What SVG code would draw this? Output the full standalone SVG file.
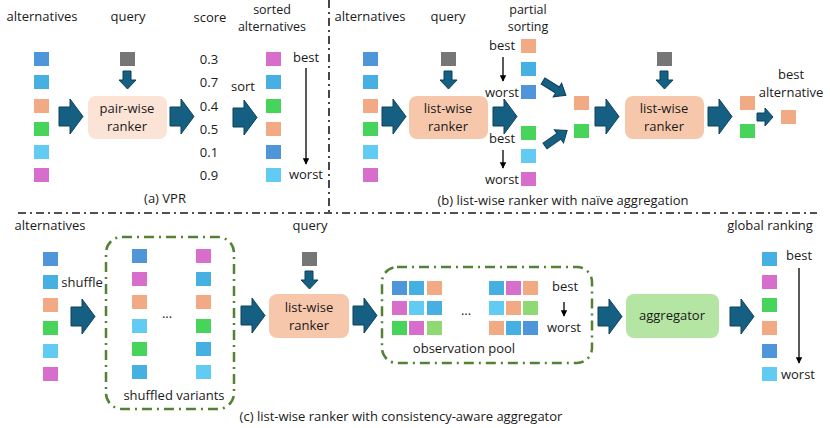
<svg xmlns="http://www.w3.org/2000/svg" xmlns:xlink="http://www.w3.org/1999/xlink" width="830" height="428" viewBox="0 0 830 428">
<style>
text{font-family:"Open Sans","Liberation Sans",sans-serif;font-size:13px;fill:#1a1a1a;text-anchor:middle}
.t2{font-size:12.5px}
.b{fill:#4e95d9}.lb{fill:#45b0e1}.o{fill:#f2aa84}.g{fill:#47d45a}.c{fill:#61cbf3}.m{fill:#d86ecc}.lg{fill:#8ed973}.gr{fill:#767676}
.sep{fill:none;stroke:#1a1a1a;stroke-width:1.6;stroke-dasharray:8 4 2 4}
.pool{fill:none;stroke:#548235;stroke-width:2.5;stroke-dasharray:10 5 2 5}
.ln{stroke:#000;stroke-width:1.3;marker-end:url(#ah)}
.arr{fill:#156082;stroke:#0e4159;stroke-width:1}
</style>
<defs>
<marker id="ah" viewBox="0 0 10 10" refX="9" refY="5" markerWidth="5" markerHeight="5" orient="auto" markerUnits="strokeWidth"><path d="M0,0 L10,5 L0,10 z" fill="#000"/></marker>
<path id="ra" class="arr" d="M0,8 H11 V0 L24,17.5 L11,35 V27 H0 Z"/>
<path id="da" class="arr" d="M4,0 H12 V9 H17 L8.5,18 L0,9 H4 Z"/>
<path id="sa" class="arr" d="M0,5 H8 V0 L16,9 L8,18 V13 H0 Z"/>
<path id="ga" class="arr" d="M0,-3.5 H17 V-8 L27,0 L17,8 V3.5 H0 Z"/>
<rect id="sq" width="15" height="14"/>
</defs>

<g id="separators">
<path class="sep" d="M329,0 V212"/>
<path class="sep" d="M18,213 H817"/>
</g>

<g id="connectors">
<use href="#ra" x="59" y="99"/>
<use href="#ra" x="170" y="99"/>
<use href="#ra" x="233" y="100"/>
<use href="#da" x="119" y="71"/>
<line class="ln" x1="306" y1="68" x2="306" y2="164"/>
<use href="#ra" x="382" y="99"/>
<use href="#da" x="440" y="71"/>
<use href="#ra" x="493" y="99"/>
<line class="ln" x1="503" y1="57" x2="503" y2="81"/>
<line class="ln" x1="503" y1="150" x2="503" y2="168"/>
<use href="#ga" transform="translate(543,81) rotate(32)"/>
<use href="#ga" transform="translate(545,146) rotate(-35)"/>
<use href="#ra" x="595" y="99"/>
<use href="#da" x="656" y="71"/>
<use href="#ra" x="708" y="99"/>
<use href="#sa" x="757" y="108"/>
<use href="#ra" x="71" y="299"/>
<use href="#ra" x="241" y="298"/>
<use href="#da" x="301" y="271"/>
<use href="#ra" x="353" y="298"/>
<line class="ln" x1="564" y1="302" x2="564" y2="316"/>
<use href="#ra" x="598" y="299"/>
<use href="#ra" x="730" y="299"/>
<line class="ln" x1="799" y1="268" x2="799" y2="363"/>
</g>

<g id="panel-a">
<text x="42" y="21">alternatives</text>
<text x="128" y="21">query</text>
<text x="210" y="22">score</text>
<text class="t2" x="272" y="14">sorted</text>
<text class="t2" x="272" y="31">alternatives</text>
<use href="#sq" class="b" x="34" y="52"/>
<use href="#sq" class="lb" x="34" y="75"/>
<use href="#sq" class="o" x="34" y="99"/>
<use href="#sq" class="g" x="34" y="122"/>
<use href="#sq" class="c" x="34" y="145"/>
<use href="#sq" class="m" x="34" y="168"/>
<use href="#sq" class="gr" x="120" y="52"/>
<g id="pairwise-ranker"><rect x="88" y="96" width="79" height="43" rx="8" fill="#fbe3d6"/>
<text x="127" y="113">pair-wise</text><text x="127" y="131">ranker</text></g>
<text x="209" y="64">0.3</text>
<text x="209" y="87">0.7</text>
<text x="209" y="111">0.4</text>
<text x="209" y="134">0.5</text>
<text x="209" y="157">0.1</text>
<text x="209" y="180">0.9</text>
<text x="243" y="91">sort</text>
<use href="#sq" class="m" x="266" y="52"/>
<use href="#sq" class="lb" x="266" y="75"/>
<use href="#sq" class="g" x="266" y="99"/>
<use href="#sq" class="o" x="266" y="122"/>
<use href="#sq" class="b" x="266" y="145"/>
<use href="#sq" class="c" x="266" y="168"/>
<text x="306" y="62">best</text>
<text x="306" y="179">worst</text>
<text x="165" y="203">(a) VPR</text>
</g>

<g id="panel-b">
<text x="370" y="21">alternatives</text>
<text x="448" y="21">query</text>
<text class="t2" x="528" y="14">partial</text>
<text class="t2" x="528" y="31">sorting</text>
<use href="#sq" class="b" x="363" y="52"/>
<use href="#sq" class="lb" x="363" y="75"/>
<use href="#sq" class="o" x="363" y="99"/>
<use href="#sq" class="g" x="363" y="122"/>
<use href="#sq" class="c" x="363" y="145"/>
<use href="#sq" class="m" x="363" y="168"/>
<use href="#sq" class="gr" x="441" y="52"/>
<g id="listwise-ranker-1"><rect x="409" y="96" width="79" height="43" rx="8" fill="#f7c7ac"/>
<text x="448" y="113">list-wise</text><text x="448" y="131">ranker</text></g>
<text x="502" y="50">best</text>
<text x="502" y="97">worst</text>
<text x="502" y="143">best</text>
<text x="502" y="184">worst</text>
<use href="#sq" class="o" x="521" y="39"/>
<use href="#sq" class="lb" x="521" y="62"/>
<use href="#sq" class="b" x="521" y="85"/>
<use href="#sq" class="g" x="521" y="126"/>
<use href="#sq" class="c" x="521" y="149"/>
<use href="#sq" class="m" x="521" y="172"/>
<use href="#sq" class="o" x="574" y="96"/>
<use href="#sq" class="g" x="574" y="124"/>
<use href="#sq" class="gr" x="657" y="52"/>
<g id="listwise-ranker-2"><rect x="625" y="96" width="79" height="43" rx="8" fill="#f7c7ac"/>
<text x="664" y="113">list-wise</text><text x="664" y="131">ranker</text></g>
<use href="#sq" class="o" x="740" y="96"/>
<use href="#sq" class="g" x="740" y="124"/>
<use href="#sq" class="o" x="781" y="110"/>
<text x="791" y="79">best</text>
<text x="791" y="97">alternative</text>
<text x="563" y="205">(b) list-wise ranker with naïve aggregation</text>
</g>

<g id="panel-c">
<text x="50" y="230">alternatives</text>
<use href="#sq" class="b" x="43" y="252"/>
<use href="#sq" class="lb" x="43" y="275"/>
<use href="#sq" class="o" x="43" y="298"/>
<use href="#sq" class="g" x="43" y="321"/>
<use href="#sq" class="c" x="43" y="344"/>
<use href="#sq" class="m" x="43" y="367"/>
<text x="82" y="287">shuffle</text>
<g id="shuffled-variants">
<rect class="pool" x="106" y="237" width="128" height="172" rx="16"/>
<use href="#sq" class="b" x="132" y="249"/>
<use href="#sq" class="m" x="132" y="272"/>
<use href="#sq" class="o" x="132" y="295"/>
<use href="#sq" class="c" x="132" y="319"/>
<use href="#sq" class="g" x="132" y="342"/>
<use href="#sq" class="lb" x="132" y="365"/>
<text x="167" y="318">...</text>
<use href="#sq" class="m" x="196" y="249"/>
<use href="#sq" class="lb" x="196" y="272"/>
<use href="#sq" class="o" x="196" y="295"/>
<use href="#sq" class="g" x="196" y="319"/>
<use href="#sq" class="lb" x="196" y="342"/>
<use href="#sq" class="c" x="196" y="365"/>
<text x="174" y="400">shuffled variants</text>
</g>
<text x="310" y="230">query</text>
<use href="#sq" class="gr" x="302" y="252"/>
<g id="listwise-ranker-3"><rect x="269" y="294" width="80" height="44" rx="8" fill="#f7c7ac"/>
<text x="309" y="312">list-wise</text><text x="309" y="330">ranker</text></g>
<g id="observation-pool">
<rect class="pool" x="382" y="267" width="210" height="96" rx="15"/>
<use href="#sq" class="b" x="392" y="281"/>
<use href="#sq" class="lb" x="409" y="281"/>
<use href="#sq" class="o" x="427" y="281"/>
<use href="#sq" class="m" x="392" y="301"/>
<use href="#sq" class="c" x="409" y="301"/>
<use href="#sq" class="lb" x="427" y="301"/>
<use href="#sq" class="g" x="392" y="321"/>
<use href="#sq" class="m" x="409" y="321"/>
<use href="#sq" class="lg" x="427" y="321"/>
<text x="466" y="315">...</text>
<use href="#sq" class="lb" x="489" y="281"/>
<use href="#sq" class="m" x="506" y="281"/>
<use href="#sq" class="o" x="523" y="281"/>
<use href="#sq" class="c" x="489" y="301"/>
<use href="#sq" class="o" x="506" y="301"/>
<use href="#sq" class="lg" x="523" y="301"/>
<use href="#sq" class="o" x="489" y="321"/>
<use href="#sq" class="lb" x="506" y="321"/>
<use href="#sq" class="b" x="523" y="321"/>
<text x="565" y="291">best</text>
<text x="564" y="332">worst</text>
<text x="464" y="353">observation pool</text>
</g>
<g id="aggregator"><rect x="626" y="294" width="93" height="44" rx="8" fill="#b4e5a2"/>
<text x="672" y="320">aggregator</text></g>
<text x="770" y="230">global ranking</text>
<use href="#sq" class="lb" x="762" y="252"/>
<use href="#sq" class="m" x="762" y="275"/>
<use href="#sq" class="g" x="762" y="298"/>
<use href="#sq" class="o" x="762" y="321"/>
<use href="#sq" class="b" x="762" y="344"/>
<use href="#sq" class="c" x="762" y="367"/>
<text x="799" y="260">best</text>
<text x="798" y="379">worst</text>
<text x="401" y="421">(c) list-wise ranker with consistency-aware aggregator</text>
</g>
</svg>
